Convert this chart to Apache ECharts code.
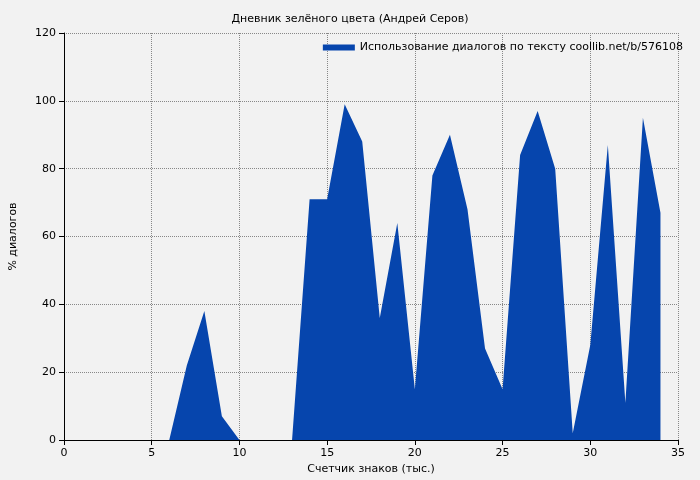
<!DOCTYPE html>
<html><head><meta charset="utf-8">
<script src="https://cdn.jsdelivr.net/npm/echarts@6/dist/echarts.min.js"></script>
<style>html,body{margin:0;background:#f2f2f2}#main{width:700px;height:480px}</style>
</head><body><div id="main"></div>
<script>
const xValues = [0,1,2,3,4,5,6,7,8,9,10,11,12,13,14,15,16,17,18,19,20,21,22,23,24,25,26,27,28,29,30,31,32,33,34];
const percents = [0,0,0,0,0,0,0,22,38,7,0,0,0,0,71,71,99,88,36,64,15,78,90,68,27,15,84,97,80,2,28,87,11,95,67];
const seriesName = 'Использование диалогов по тексту coollib.net/b/576108';

const chart = echarts.init(document.getElementById('main'));
const font = 'DejaVu Sans';
chart.setOption({
  backgroundColor: '#f2f2f2',
  textStyle: { fontFamily: font },
  title: { text: 'Дневник зелёного цвета (Андрей Серов)', left: 'center', top: 9,
    textStyle: { fontSize: 11, fontWeight: 'normal', color: '#000', fontFamily: font } },
  legend: { top: 37, right: 12, itemWidth: 32, itemHeight: 6, icon: 'rect', itemGap: 6,
    textStyle: { fontSize: 11, color: '#000', fontFamily: font }, data: [seriesName] },
  grid: { left: 60, right: 22, top: 33, bottom: 40 },
  xAxis: { type: 'value', min: 0, max: 35, interval: 5,
    name: 'Счетчик знаков (тыс.)', nameLocation: 'middle', nameGap: 24,
    nameTextStyle: { fontSize: 11, color: '#000' },
    axisLine: { lineStyle: { color: '#000' } }, axisTick: { lineStyle: { color: '#000' } },
    axisLabel: { color: '#000', fontSize: 11 },
    splitLine: { lineStyle: { color: '#888', type: 'dotted' } } },
  yAxis: { type: 'value', min: 0, max: 120, interval: 20,
    name: '% диалогов', nameLocation: 'middle', nameGap: 45,
    nameTextStyle: { fontSize: 11, color: '#000' },
    axisLine: { show: true, lineStyle: { color: '#000' } }, axisTick: { show: true, lineStyle: { color: '#000' } },
    axisLabel: { color: '#000', fontSize: 11 },
    splitLine: { lineStyle: { color: '#888', type: 'dotted' } } },
  series: [{ name: seriesName, type: 'line', symbol: 'none',
    data: xValues.map((x, i) => [x, percents[i]]),
    lineStyle: { width: 0, color: '#0645ad' }, itemStyle: { color: '#0645ad' },
    areaStyle: { color: '#0645ad', opacity: 1 } }]
});
</script></body></html>
